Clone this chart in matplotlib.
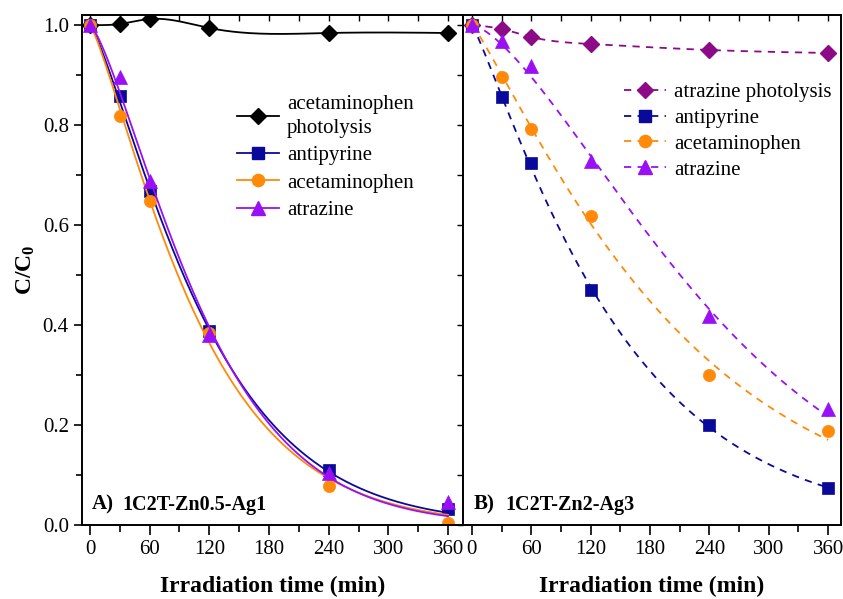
import numpy as np
import matplotlib
matplotlib.use("Agg")
import matplotlib.pyplot as plt
from matplotlib.ticker import MultipleLocator

plt.rcParams['font.family'] = ['Liberation Serif', 'DejaVu Serif']
plt.rcParams['mathtext.fontset'] = 'custom'
plt.rcParams['mathtext.rm'] = 'Liberation Serif'
plt.rcParams['mathtext.bf'] = 'Liberation Serif:bold'

# ---------------- data ----------------
time = [0, 30, 60, 120, 240, 360]

# Panel A: 1C2T-Zn0.5-Ag1
a_photolysis = [1.000, 1.002, 1.012, 0.994, 0.984, 0.984]
a_antipyrine = [1.000, 0.857, 0.668, 0.387, 0.110, 0.032]
a_acetaminophen = [1.000, 0.817, 0.648, 0.384, 0.078, 0.005]
a_atrazine = [1.000, 0.895, 0.687, 0.380, 0.105, 0.047]

# Panel B: 1C2T-Zn2-Ag3
b_photolysis = [1.000, 0.992, 0.976, 0.962, 0.950, 0.944]
b_antipyrine = [1.000, 0.856, 0.724, 0.470, 0.200, 0.074]
b_acetaminophen = [1.000, 0.896, 0.792, 0.618, 0.300, 0.189]
b_atrazine = [1.000, 0.968, 0.918, 0.728, 0.418, 0.232]

xticks = [0, 60, 120, 180, 240, 300, 360]
yticks = [0.0, 0.2, 0.4, 0.6, 0.8, 1.0]

# colours
c_black = '#000000'
c_blue = '#0a0a9a'
c_orange = '#ff8a0a'
c_purple = '#9a10f5'
c_magenta = '#8c0a88'


def natural_spline(x, y, xn):
    x = np.asarray(x, float); y = np.asarray(y, float)
    n = len(x)
    h = np.diff(x)
    A = np.zeros((n, n)); r = np.zeros(n)
    A[0, 0] = 1; A[-1, -1] = 1
    for i in range(1, n - 1):
        A[i, i - 1] = h[i - 1]
        A[i, i] = 2 * (h[i - 1] + h[i])
        A[i, i + 1] = h[i]
        r[i] = 3 * ((y[i + 1] - y[i]) / h[i] - (y[i] - y[i - 1]) / h[i - 1])
    c = np.linalg.solve(A, r)
    b = (np.diff(y) / h) - h * (2 * c[:-1] + c[1:]) / 3
    d = np.diff(c) / (3 * h)
    idx = np.clip(np.searchsorted(x, xn) - 1, 0, n - 2)
    dx = xn - x[idx]
    return y[idx] + b[idx] * dx + c[idx] * dx ** 2 + d[idx] * dx ** 3


def weibull_fit_curve(x, y, xn):
    """Least-squares fit of C = exp(-(t/tau)^n) by grid search."""
    x = np.asarray(x, float); y = np.asarray(y, float)
    taus = np.linspace(40, 800, 761)
    ns = np.linspace(0.5, 3.0, 251)
    T, N = np.meshgrid(taus, ns, indexing='ij')
    pred = np.exp(-(x[None, None, :] / T[..., None]) ** N[..., None])
    sse = ((pred - y[None, None, :]) ** 2).sum(-1)
    i, j = np.unravel_index(np.argmin(sse), sse.shape)
    return np.exp(-(xn / taus[i]) ** ns[j])


fig = plt.figure(figsize=(8.43, 5.99), dpi=100)
axA = fig.add_axes([82 / 843, 74 / 599, (463 - 82) / 843, (525 - 15) / 599])
axB = fig.add_axes([463 / 843, 74 / 599, (841 - 463) / 843, (525 - 15) / 599])

xs = np.linspace(0, 360, 400)
ms = 8.8
lw = 1.3

# ---- Panel A ----
axA.plot(xs, natural_spline(time, a_photolysis, xs), color=c_black, lw=lw)
axA.plot(time, a_photolysis, 'D', color=c_black, ms=8)
for vals, col, mk, m in [(a_antipyrine, c_blue, 's', ms - 0.5),
                         (a_acetaminophen, c_orange, 'o', ms),
                         (a_atrazine, c_purple, '^', ms + 1.5)]:
    axA.plot(xs, weibull_fit_curve(time, vals, xs), color=col, lw=lw)
    axA.plot(time, vals, mk, color=col, ms=m, markeredgewidth=0.5)

# legend proxies A
hA = [axA.plot([], [], '-D', color=c_black, ms=8, lw=lw)[0],
      axA.plot([], [], '-s', color=c_blue, ms=ms - 0.5, lw=lw)[0],
      axA.plot([], [], '-o', color=c_orange, ms=ms, lw=lw)[0],
      axA.plot([], [], '-^', color=c_purple, ms=ms + 1.5, lw=lw)[0]]
legA = axA.legend(hA, ['acetaminophen\nphotolysis', 'antipyrine', 'acetaminophen', 'atrazine'],
                  loc='upper left', bbox_to_anchor=(0.385, 0.86), frameon=False,
                  fontsize=15, handlelength=2.0, handletextpad=0.4, labelspacing=0.38,
                  borderaxespad=0)
legA.get_texts()[0].set_linespacing(1.35)

# ---- Panel B ----
dash = (0, (4, 3.5))
axB.plot(xs, natural_spline(time, b_photolysis, xs), color=c_magenta, lw=lw, linestyle=dash)
axB.plot(time, b_photolysis, 'D', color=c_magenta, ms=8)
for vals, col, mk, m in [(b_antipyrine, c_blue, 's', ms - 0.5),
                         (b_acetaminophen, c_orange, 'o', ms),
                         (b_atrazine, c_purple, '^', ms + 1.5)]:
    axB.plot(xs, weibull_fit_curve(time, vals, xs), color=col, lw=lw, linestyle=dash)
    axB.plot(time, vals, mk, color=col, ms=m, markeredgewidth=0.5)

hB = [axB.plot([], [], 'D', color=c_magenta, ms=8, lw=lw, linestyle=dash)[0],
      axB.plot([], [], 's', color=c_blue, ms=ms - 0.5, lw=lw, linestyle=dash)[0],
      axB.plot([], [], 'o', color=c_orange, ms=ms, lw=lw, linestyle=dash)[0],
      axB.plot([], [], '^', color=c_purple, ms=ms + 1.5, lw=lw, linestyle=dash)[0]]
axB.legend(hB, ['atrazine photolysis', 'antipyrine', 'acetaminophen', 'atrazine'],
           loc='upper left', bbox_to_anchor=(0.405, 0.884), frameon=False,
           fontsize=15, handlelength=2.0, handletextpad=0.4, labelspacing=0.3,
           borderaxespad=0)

# ---- axes formatting ----
axA.set_xlim(-8, 375)
axB.set_xlim(-9, 373)
for ax in (axA, axB):
    ax.set_ylim(0, 1.02)
    ax.set_xticks(xticks)
    ax.xaxis.set_minor_locator(MultipleLocator(30))
    ax.yaxis.set_minor_locator(MultipleLocator(0.1))
    ax.tick_params(axis='x', which='major', direction='out', length=7, width=1.2,
                   labelsize=15, top=False, pad=4)
    ax.tick_params(axis='x', which='minor', direction='out', length=5, width=1.2, top=False)
    for s in ax.spines.values():
        s.set_linewidth(1.4)
    ax.set_xlabel('Irradiation time (min)', fontsize=17, fontweight='bold', labelpad=12)
    # top ticks inward
    sec = ax.secondary_xaxis('top')
    sec.set_xticks(np.arange(0, 361, 30))
    sec.tick_params(direction='in', length=4, width=1.0, labeltop=False)
    sec.spines['top'].set_visible(False)

axA.set_yticks(yticks)
axA.set_yticklabels([f'{v:.1f}' for v in yticks])
axA.tick_params(axis='y', which='major', direction='out', length=6, width=1.2, labelsize=15)
axA.tick_params(axis='y', which='minor', direction='out', length=4, width=1.2)
axA.set_ylabel(r'$\mathbf{C/C_0}$', fontsize=17, labelpad=4)

axB.set_yticks(yticks)
axB.tick_params(axis='y', which='both', direction='out', length=4, width=1.0, labelleft=False)

axA.text(0.025, 0.02, 'A)', transform=axA.transAxes, fontsize=15, fontweight='bold', va='bottom')
axA.text(0.107, 0.02, '1C2T-Zn0.5-Ag1', transform=axA.transAxes, fontsize=14.5, fontweight='bold', va='bottom')
axB.text(0.027, 0.02, 'B)', transform=axB.transAxes, fontsize=15, fontweight='bold', va='bottom')
axB.text(0.112, 0.02, '1C2T-Zn2-Ag3', transform=axB.transAxes, fontsize=14.5, fontweight='bold', va='bottom')

fig.savefig('out.png', dpi=100)
